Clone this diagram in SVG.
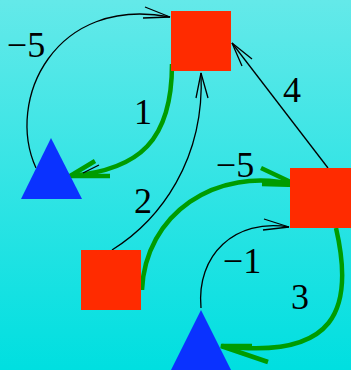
<svg xmlns="http://www.w3.org/2000/svg" width="351" height="370" viewBox="0 0 351 370">
<defs>
<linearGradient id="bg" x1="0" y1="0" x2="0" y2="1">
<stop offset="0" stop-color="#64e9e9"/>
<stop offset="1" stop-color="#00dfe0"/>
</linearGradient>
<style>
.sq{fill:#ff2b00}
.tri{fill:#0a32ff}
.thin{fill:none;stroke:#000;stroke-width:1.3}
.thick{fill:none;stroke:#009c00;stroke-width:4.5}
.ah{fill:none;stroke:#009c00;stroke-width:4.5;stroke-linejoin:miter}
.lbl{font-family:"Liberation Serif","Times New Roman",serif;font-size:36px;fill:#000;text-anchor:middle}
</style>
</defs>
<rect x="0" y="0" width="351" height="370" fill="url(#bg)"/>
<g id="connectors">
<g id="e1">
<path class="thin" d="M36,168 C5,100 55,-5 170,17"/>
<polyline class="thin" points="145,7 170,17 143,18"/>
</g>
<g id="e2">
<path class="thick" d="M172,64 C172,140 140,170 70,176"/>
<polyline class="ah" points="95,161 70,176 110,176"/>
<line class="thin" x1="83" y1="173" x2="99" y2="165"/>
</g>
<g id="e3">
<path class="thin" d="M112,250 C160,220 205,160 201,73"/>
<polyline class="thin" points="196,98 201,73 208,98"/>
</g>
<g id="e4">
<line class="thin" x1="328" y1="168" x2="232" y2="43"/>
<polyline class="thin" points="242,66 232,43 252,59"/>
</g>
<g id="e5">
<path class="thick" d="M142,290 C145,215 215,165 296,185"/>
<polyline class="ah" points="261,168 297,185 262,184"/>
</g>
<g id="e6">
<path class="thin" d="M201,308 C196,255 235,218 289,227"/>
<polyline class="thin" points="264,219 289,227 263,230"/>
</g>
<g id="e7">
<path class="thick" d="M336,228 C355,310 335,360 222,346"/>
<polyline class="ah" points="252,346 221,346 268,362"/>
</g>
</g>
<g id="nodeA"><rect class="sq" x="171" y="11" width="60" height="60"/></g>
<g id="nodeB"><polygon class="tri" points="51,138 21,199 82,199"/></g>
<g id="nodeC"><rect class="sq" x="290" y="168" width="61" height="60"/></g>
<g id="nodeD"><rect class="sq" x="81" y="250" width="60" height="60"/></g>
<g id="nodeE"><polygon class="tri" points="201,310 171,370 231,370"/></g>
<g id="labels">
<text class="lbl" x="26" y="57">−5</text>
<text class="lbl" x="143" y="124">1</text>
<text class="lbl" x="143" y="213">2</text>
<text class="lbl" x="292" y="102">4</text>
<text class="lbl" x="235" y="177">−5</text>
<text class="lbl" x="242" y="273">−1</text>
<text class="lbl" x="300" y="309">3</text>
</g>
</svg>
